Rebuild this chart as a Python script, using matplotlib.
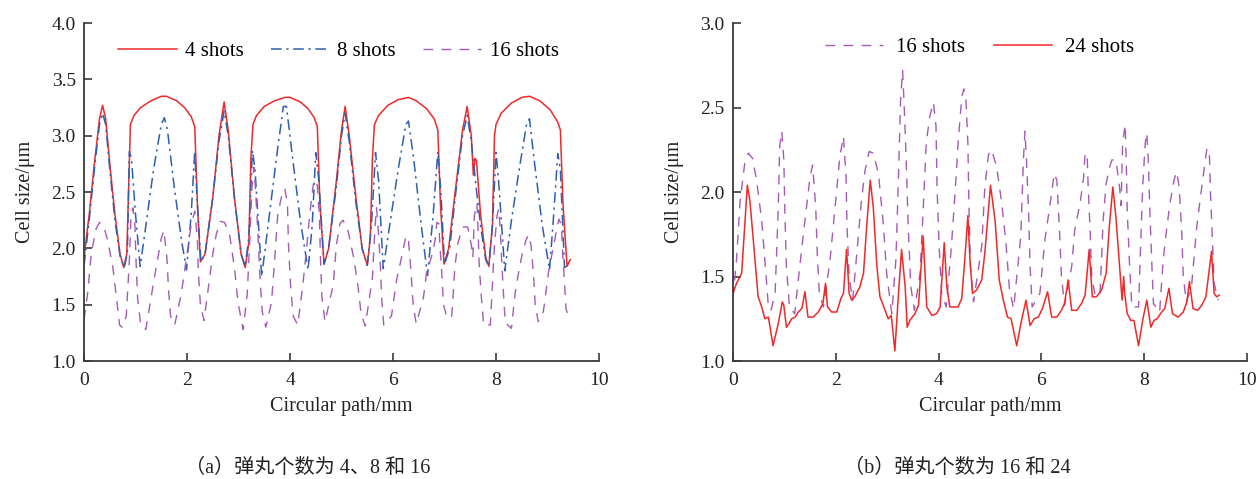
import matplotlib
matplotlib.use("Agg")
import matplotlib.pyplot as plt
import numpy as np

plt.rcParams['font.family'] = ['Liberation Serif', 'Noto Sans CJK SC', 'DejaVu Sans']
plt.rcParams['mathtext.fontset'] = 'stix'

# --- (a) 4, 8 and 16 shots ---
x4 = [0.00, 0.10, 0.20, 0.30, 0.36, 0.42, 0.50, 0.60, 0.70, 0.77, 0.83, 0.87, 0.90, 0.97,
      1.10, 1.30, 1.50, 1.60, 1.80, 1.95, 2.08, 2.15, 2.20, 2.26, 2.35, 2.50, 2.62, 2.72,
      2.80, 2.92, 3.05, 3.13, 3.20, 3.24, 3.28, 3.35, 3.50, 3.70, 3.90, 4.00, 4.20, 4.35,
      4.47, 4.53, 4.58, 4.66, 4.75, 4.90, 5.00, 5.07, 5.15, 5.28, 5.40, 5.50, 5.56, 5.60,
      5.64, 5.72, 5.90, 6.10, 6.30, 6.45, 6.65, 6.80, 6.87, 6.92, 6.99, 7.08, 7.22, 7.35,
      7.44, 7.52, 7.56, 7.59, 7.62, 7.70, 7.80, 7.86, 7.93, 7.97, 8.00, 8.10, 8.30, 8.50,
      8.65, 8.85, 9.05, 9.20, 9.25, 9.30, 9.38, 9.44]
y4 = [1.92, 2.30, 2.75, 3.15, 3.27, 3.15, 2.75, 2.30, 1.95, 1.83, 1.95, 2.60, 3.10, 3.18,
      3.25, 3.31, 3.35, 3.35, 3.31, 3.25, 3.17, 3.08, 2.40, 1.88, 1.95, 2.45, 3.00, 3.30,
      3.05, 2.45, 1.95, 1.83, 2.05, 2.80, 3.10, 3.18, 3.26, 3.31, 3.34, 3.34, 3.30, 3.24,
      3.16, 3.08, 2.40, 1.86, 2.00, 2.60, 3.05, 3.26, 3.00, 2.45, 2.00, 1.85, 2.10, 2.80,
      3.10, 3.18, 3.27, 3.32, 3.34, 3.31, 3.24, 3.15, 3.05, 2.40, 1.86, 2.00, 2.55, 3.05,
      3.26, 3.00, 2.65, 2.80, 2.78, 2.30, 1.92, 1.84, 2.20, 3.00, 3.10, 3.20, 3.29, 3.34,
      3.35, 3.31, 3.23, 3.12, 3.05, 2.40, 1.84, 1.90]

x8 = [0.00, 0.10, 0.20, 0.30, 0.36, 0.42, 0.50, 0.60, 0.70, 0.78, 0.84, 0.88, 0.92, 1.00,
      1.09, 1.20, 1.35, 1.50, 1.56, 1.62, 1.75, 1.90, 1.99, 2.08, 2.15, 2.20, 2.27, 2.35,
      2.50, 2.62, 2.72, 2.80, 2.92, 3.05, 3.13, 3.20, 3.27, 3.32, 3.45, 3.60, 3.75, 3.87,
      3.93, 4.05, 4.20, 4.35, 4.43, 4.50, 4.56, 4.66, 4.75, 4.90, 5.00, 5.07, 5.15, 5.28,
      5.40, 5.50, 5.58, 5.66, 5.72, 5.81, 5.95, 6.10, 6.25, 6.30, 6.40, 6.55, 6.67, 6.78,
      6.87, 6.93, 7.00, 7.10, 7.22, 7.35, 7.44, 7.52, 7.60, 7.70, 7.80, 7.86, 7.93, 8.00,
      8.05, 8.17, 8.30, 8.45, 8.60, 8.65, 8.75, 8.90, 9.04, 9.12, 9.20, 9.25, 9.33, 9.44]
y8 = [1.85, 2.25, 2.70, 3.10, 3.20, 3.10, 2.70, 2.25, 1.93, 1.83, 1.95, 2.86, 2.80, 2.30,
      1.84, 2.20, 2.70, 3.10, 3.16, 3.05, 2.55, 2.05, 1.81, 2.30, 2.86, 2.40, 1.88, 1.95,
      2.45, 2.95, 3.22, 3.00, 2.45, 1.95, 1.84, 2.10, 2.87, 2.70, 1.75, 2.30, 2.85, 3.26,
      3.26, 2.80, 2.25, 1.81, 2.20, 2.85, 2.60, 1.86, 2.00, 2.55, 3.00, 3.20, 2.95, 2.40,
      2.00, 1.85, 2.20, 2.85, 2.60, 1.82, 2.25, 2.70, 3.10, 3.13, 2.80, 2.20, 1.76, 2.30,
      2.86, 2.50, 1.86, 2.00, 2.50, 3.00, 3.18, 2.95, 2.60, 2.20, 1.90, 1.84, 2.20, 2.85,
      2.60, 1.80, 2.25, 2.70, 3.12, 3.15, 2.75, 2.20, 1.81, 2.30, 2.84, 2.70, 1.83, 1.87]

# 16 shots (same curve in both panels)
x16 = [0.00, 0.07, 0.14, 0.23, 0.30, 0.38, 0.46, 0.56, 0.62, 0.69, 0.74, 0.82, 0.88, 0.91,
       0.95, 0.99, 1.01, 1.04, 1.10, 1.20, 1.30, 1.40, 1.50, 1.55, 1.61, 1.64, 1.68, 1.76,
       1.89, 1.98, 2.08, 2.15, 2.20, 2.22, 2.26, 2.33, 2.50, 2.57, 2.65, 2.73, 2.83, 2.92,
       2.99, 3.09, 3.17, 3.22, 3.26, 3.30, 3.33, 3.37, 3.41, 3.46, 3.53, 3.64, 3.70, 3.76,
       3.83, 3.90, 3.95, 3.97, 4.01, 4.06, 4.15, 4.25, 4.32, 4.38, 4.45, 4.49, 4.53, 4.57,
       4.59, 4.62, 4.68, 4.84, 4.90, 4.97, 5.03, 5.13, 5.23, 5.31, 5.38, 5.46, 5.60, 5.65,
       5.68, 5.71, 5.75, 5.78, 5.82, 5.97, 6.07, 6.17, 6.25, 6.30, 6.35, 6.39, 6.45, 6.59,
       6.65, 6.75, 6.82, 6.85, 6.89, 6.91, 6.95, 6.98, 7.05, 7.14, 7.17, 7.20, 7.26, 7.33,
       7.37, 7.45, 7.52, 7.55, 7.58, 7.63, 7.65, 7.67, 7.71, 7.76, 7.89, 7.93, 7.97, 8.02,
       8.05, 8.08, 8.11, 8.15, 8.18, 8.30, 8.37, 8.44, 8.50, 8.58, 8.63, 8.68, 8.73, 8.76,
       8.82, 8.92, 9.02, 9.12, 9.22, 9.27, 9.29, 9.33, 9.36, 9.44]
y16 = [1.37, 1.60, 1.95, 2.17, 2.23, 2.20, 2.07, 1.83, 1.60, 1.32, 1.30, 1.40, 1.89, 2.27,
       2.36, 2.19, 1.88, 1.56, 1.32, 1.28, 1.56, 1.83, 2.09, 2.16, 1.91, 1.64, 1.40, 1.32,
       1.60, 1.89, 2.21, 2.33, 2.09, 1.79, 1.50, 1.36, 1.95, 2.13, 2.24, 2.23, 2.11, 1.83,
       1.52, 1.28, 1.60, 2.09, 2.54, 2.72, 2.52, 2.19, 1.79, 1.44, 1.30, 1.52, 1.89, 2.29,
       2.45, 2.53, 2.39, 2.03, 1.68, 1.40, 1.32, 1.68, 1.99, 2.29, 2.56, 2.61, 2.56, 2.29,
       1.93, 1.56, 1.35, 1.68, 2.03, 2.22, 2.25, 2.15, 1.93, 1.70, 1.42, 1.31, 1.74, 2.19,
       2.36, 2.19, 1.89, 1.56, 1.32, 1.40, 1.72, 1.93, 2.11, 2.07, 1.79, 1.50, 1.33, 1.56,
       1.78, 1.93, 2.08, 2.23, 2.22, 2.03, 1.76, 1.50, 1.38, 1.40, 1.60, 1.83, 2.05, 2.15,
       2.19, 2.19, 2.03, 1.92, 2.29, 2.40, 2.19, 1.89, 1.60, 1.32, 1.32, 1.68, 2.03, 2.29,
       2.35, 2.19, 1.89, 1.56, 1.34, 1.29, 1.60, 1.79, 1.93, 2.07, 2.12, 2.03, 1.76, 1.50,
       1.35, 1.44, 1.79, 2.03, 2.26, 2.21, 1.99, 1.68, 1.46, 1.36]

# --- (b) 24 shots ---
x24 = [0.00, 0.07, 0.17, 0.28, 0.33, 0.40, 0.49, 0.56, 0.62, 0.69, 0.78, 0.88, 0.96, 0.99,
       1.04, 1.09, 1.14, 1.21, 1.27, 1.34, 1.40, 1.46, 1.56, 1.66, 1.75, 1.80, 1.84, 1.92,
       2.02, 2.10, 2.15, 2.21, 2.26, 2.31, 2.37, 2.47, 2.54, 2.60, 2.67, 2.73, 2.80, 2.86,
       2.96, 3.02, 3.08, 3.15, 3.22, 3.28, 3.35, 3.39, 3.44, 3.54, 3.61, 3.70, 3.77, 3.87,
       3.96, 4.03, 4.11, 4.16, 4.22, 4.32, 4.38, 4.45, 4.51, 4.57, 4.61, 4.66, 4.74, 4.84,
       4.90, 5.01, 5.10, 5.18, 5.26, 5.34, 5.41, 5.52, 5.60, 5.70, 5.78, 5.86, 5.94, 6.02,
       6.12, 6.20, 6.30, 6.39, 6.45, 6.52, 6.59, 6.69, 6.78, 6.85, 6.93, 6.99, 7.07, 7.17,
       7.26, 7.32, 7.39, 7.45, 7.52, 7.57, 7.60, 7.62, 7.67, 7.74, 7.80, 7.89, 7.97, 8.05,
       8.13, 8.19, 8.25, 8.34, 8.40, 8.48, 8.55, 8.66, 8.76, 8.83, 8.88, 8.95, 9.04, 9.12,
       9.20, 9.31, 9.36, 9.41, 9.46]
y24 = [1.40, 1.46, 1.52, 2.04, 1.95, 1.70, 1.38, 1.32, 1.25, 1.26, 1.09, 1.22, 1.35, 1.33,
       1.20, 1.22, 1.25, 1.26, 1.29, 1.31, 1.41, 1.26, 1.26, 1.29, 1.34, 1.46, 1.32, 1.29,
       1.29, 1.37, 1.40, 1.66, 1.40, 1.36, 1.38, 1.44, 1.52, 1.79, 2.07, 1.91, 1.56, 1.38,
       1.30, 1.25, 1.27, 1.06, 1.40, 1.66, 1.44, 1.20, 1.24, 1.28, 1.33, 1.74, 1.32, 1.27,
       1.28, 1.32, 1.70, 1.44, 1.32, 1.32, 1.32, 1.37, 1.60, 1.86, 1.60, 1.40, 1.42, 1.48,
       1.64, 2.04, 1.83, 1.48, 1.36, 1.26, 1.25, 1.09, 1.22, 1.36, 1.21, 1.25, 1.26, 1.31,
       1.41, 1.26, 1.26, 1.30, 1.34, 1.48, 1.30, 1.30, 1.34, 1.39, 1.66, 1.38, 1.38, 1.42,
       1.52, 1.79, 2.03, 1.85, 1.56, 1.36, 1.50, 1.40, 1.28, 1.24, 1.24, 1.09, 1.24, 1.36,
       1.20, 1.24, 1.25, 1.29, 1.31, 1.43, 1.28, 1.26, 1.29, 1.35, 1.47, 1.31, 1.30, 1.33,
       1.38, 1.65, 1.40, 1.38, 1.39]

RED = '#f0282a'
BLUE = '#2f5fae'
PURPLE = '#a45bb5'
AXC = '#3a3a3a'

fig = plt.figure(figsize=(12.6, 4.79), dpi=100)
ax1 = fig.add_axes([0.0667, 0.2463, 0.4087, 0.7056])
ax2 = fig.add_axes([0.5817, 0.2463, 0.4080, 0.7056])

ax1.plot(x4, y4, color=RED, lw=1.1, label='4 shots')
ax1.plot(x8, y8, color=BLUE, lw=1.1, dashes=(7, 3, 1.5, 3), label='8 shots')
ax1.plot(x16, y16, color=PURPLE, lw=1.0, dashes=(7, 6), label='16 shots')
ax1.set_ylim(1.0, 4.0)
ax1.set_yticks([1.0, 1.5, 2.0, 2.5, 3.0, 3.5, 4.0])

ax2.plot(x16, y16, color=PURPLE, lw=1.0, dashes=(7, 6), label='16 shots')
ax2.plot(x24, y24, color=RED, lw=1.1, label='24 shots')
ax2.set_ylim(1.0, 3.0)
ax2.set_yticks([1.0, 1.5, 2.0, 2.5, 3.0])

for ax in (ax1, ax2):
    ax.set_xlim(0, 10)
    ax.set_xticks([0, 2, 4, 6, 8, 10])
    ax.yaxis.set_major_formatter(matplotlib.ticker.FormatStrFormatter('%.1f'))
    for s in ('top', 'right'):
        ax.spines[s].set_visible(False)
    for s in ('left', 'bottom'):
        ax.spines[s].set_color(AXC)
        ax.spines[s].set_linewidth(1.3)
    ax.tick_params(direction='in', length=6, width=1.2, color=AXC,
                   labelsize=14, labelcolor='#222222')
    ax.tick_params(axis='x', pad=8)
    ax.tick_params(axis='y', pad=6)
    ax.set_xlabel('Circular path/mm', fontsize=14.5, color='#222222', labelpad=6)
    ax.set_ylabel('Cell size/μm', fontsize=14.5, color='#222222', labelpad=12)

ax1.legend(loc='upper left', bbox_to_anchor=(0.03, 1.0), ncol=3, frameon=False,
           fontsize=15, handlelength=2.8, columnspacing=1.3, handletextpad=0.4)
ax2.legend(loc='upper left', bbox_to_anchor=(0.142, 1.012), ncol=2, frameon=False,
           fontsize=15, handlelength=2.8, columnspacing=1.4, handletextpad=0.6)

fig.text(0.244, 0.012, '（a）弹丸个数为 4、8 和 16', fontsize=14.5, color='#222222', ha='center')
fig.text(0.760, 0.012, '（b）弹丸个数为 16 和 24', fontsize=14.5, color='#222222', ha='center')

fig.savefig('out.png', dpi=100)
